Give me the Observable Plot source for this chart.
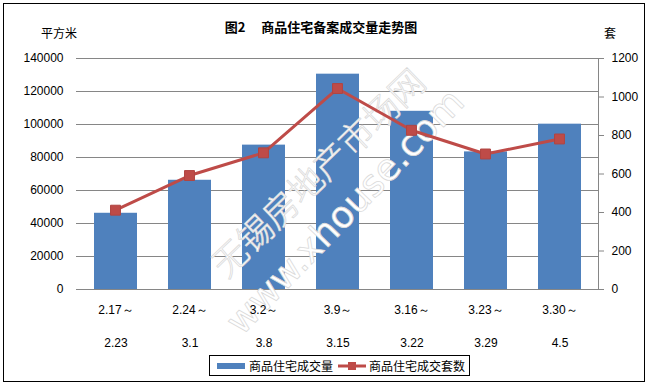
<!DOCTYPE html>
<html>
<head>
<meta charset="utf-8">
<script src="https://cdn.jsdelivr.net/npm/d3@7"></script>
<script src="https://cdn.jsdelivr.net/npm/@observablehq/plot@0.6"></script>
<style>
  html, body { margin: 0; padding: 0; background: #fff; }
  #chart { position: relative; width: 649px; height: 385px; overflow: hidden; font-family: "Liberation Sans", Arial, sans-serif; }
  #chart .layer { position: absolute; left: 0; top: 0; }
  #border { position: absolute; left: 3px; top: 3px; width: 642px; height: 379px; box-sizing: border-box; border: 1px solid #000; }
  .cjk { font-family: "Noto Sans CJK SC", sans-serif; }
  #title { position: absolute; left: 0; width: 642px; top: 17px; text-align: center; font-size: 13px; font-weight: bold; color: #000; line-height: 20px; white-space: pre; }
  #unitL { position: absolute; left: 41px; top: 24px; font-size: 12px; line-height: 18px; }
  #unitR { position: absolute; left: 604px; top: 24px; font-size: 12px; line-height: 18px; }
  #legend { position: absolute; left: 209px; top: 355px; width: 261px; height: 21px; box-sizing: border-box; border: 1px solid #000; background: #fff; display: flex; align-items: center; font-size: 12px; line-height: 16px; white-space: nowrap; }
  .sw { display: inline-block; flex: none; }
</style>
</head>
<body>
<div id="chart"></div>
<script>
// ---- data ----
const weekStart = ["2.17～", "2.24～", "3.2～", "3.9～", "3.16～", "3.23～", "3.30～"];
const weekEnd   = ["2.23", "3.1", "3.8", "3.15", "3.22", "3.29", "4.5"];
const areaSqm   = [46200, 66200, 87500, 130500, 108000, 83400, 100200];
const unitCount = [412, 592, 710, 1044, 827, 704, 782];
const areaTicks = [0, 20000, 40000, 60000, 80000, 100000, 120000, 140000];
const unitTicks = [0, 200, 400, 600, 800, 1000, 1200];
const seriesNames = ["商品住宅成交量", "商品住宅成交套数"];
const titleText = "图2　 商品住宅备案成交量走势图";
const unitLeft = "平方米";
const unitRight = "套";
const watermark = ["无锡房地产市场网", "www.xhouse.com"];

const categories = weekStart.map((s, i) => s + weekEnd[i]);
const rows = categories.map((c, i) => ({cat: c, area: areaSqm[i], units: unitCount[i], start: weekStart[i], end: weekEnd[i]}));

const W = 649, H = 385;
const frame = {marginLeft: 76, marginRight: 51, marginTop: 58, marginBottom: 96};
const xScale = {domain: categories, paddingInner: 0.425, paddingOuter: 0.2125, axis: null};
const blue = "#4F81BD", red = "#BE4B48", grid = "#868686";

const root = document.getElementById("chart");

// Layer 1: bars, grid, left axis, x labels, watermark
const p1 = Plot.plot({
  width: W, height: H, ...frame,
  style: {background: "transparent", fontFamily: "Liberation Sans, Arial, sans-serif", fontSize: "12px", color: "#000", overflow: "visible"},
  x: xScale,
  y: {domain: [0, 140000], axis: null, label: null},
  marks: [
    Plot.gridY(areaTicks, {stroke: grid, strokeOpacity: 1, strokeWidth: 1}),
    Plot.barY(rows, {x: "cat", y: "area", fill: blue}),
    Plot.text([watermark[0]], {frameAnchor: "middle", text: d => d, rotate: -44, dx: -18, dy: 0,
      fontSize: 35, fontFamily: "Noto Sans CJK SC", fontWeight: 300, fill: "#fff", stroke: "#dadada", strokeWidth: 0.8, paintOrder: "fill"}),
    Plot.text([watermark[1]], {frameAnchor: "middle", text: d => d, rotate: -46, dx: 8, dy: 38,
      fontSize: 37, fontFamily: "DejaVu Sans", fill: "#fff", stroke: "#dadada", strokeWidth: 0.8, paintOrder: "fill"}),
    Plot.axisY(areaTicks, {anchor: "left", label: null, tickSize: 0, tickPadding: 13, tickFormat: d => String(d), fontSize: 12}),
    Plot.text(rows, {x: "cat", text: "start", frameAnchor: "bottom", lineAnchor: "middle", dy: 21, fontSize: 12}),
    Plot.text(rows, {x: "cat", text: "end", frameAnchor: "bottom", lineAnchor: "middle", dy: 54, fontSize: 12})
  ]
});
p1.classList.add("layer");
root.appendChild(p1);

// Layer 2: line, markers, right axis
const p2 = Plot.plot({
  width: W, height: H, ...frame,
  style: {background: "transparent", fontFamily: "Liberation Sans, Arial, sans-serif", fontSize: "12px", color: "#000", overflow: "visible"},
  x: xScale,
  y: {domain: [0, 1200], axis: null, label: null},
  marks: [
    Plot.frame({anchor: "right", stroke: grid}),
    Plot.axisY(unitTicks, {anchor: "right", label: null, tickSize: 5, tickPadding: 8, stroke: grid, tickFormat: d => String(d), fontSize: 12}),
    Plot.line(rows, {x: "cat", y: "units", stroke: red, strokeWidth: 3}),
    Plot.dot(rows, {x: "cat", y: "units", symbol: "square", r: 5.6, fill: red, stroke: "#B04542", strokeWidth: 1})
  ]
});
p2.classList.add("layer");
root.appendChild(p2);

// Border, title, units, legend
const border = document.createElement("div");
border.id = "border";
root.appendChild(border);

const title = document.createElement("div");
title.id = "title"; title.className = "cjk"; title.textContent = titleText;
root.appendChild(title);

const ul = document.createElement("div");
ul.id = "unitL"; ul.className = "cjk"; ul.textContent = unitLeft;
root.appendChild(ul);
const ur = document.createElement("div");
ur.id = "unitR"; ur.className = "cjk"; ur.textContent = unitRight;
root.appendChild(ur);

const lg = document.createElement("div");
lg.id = "legend"; lg.className = "cjk";
lg.innerHTML =
  `<svg class="sw" width="36" height="10" style="margin-left:3px"><rect x="4" y="2" width="28" height="6" fill="${blue}"/></svg>` +
  `<span>${seriesNames[0]}</span>` +
  `<svg class="sw" width="34" height="12" style="margin-left:2px"><line x1="3" y1="6" x2="31" y2="6" stroke="${red}" stroke-width="3"/><rect x="13" y="2" width="8" height="8" fill="${red}"/></svg>` +
  `<span>${seriesNames[1]}</span>`;
root.appendChild(lg);
</script>
</body>
</html>
